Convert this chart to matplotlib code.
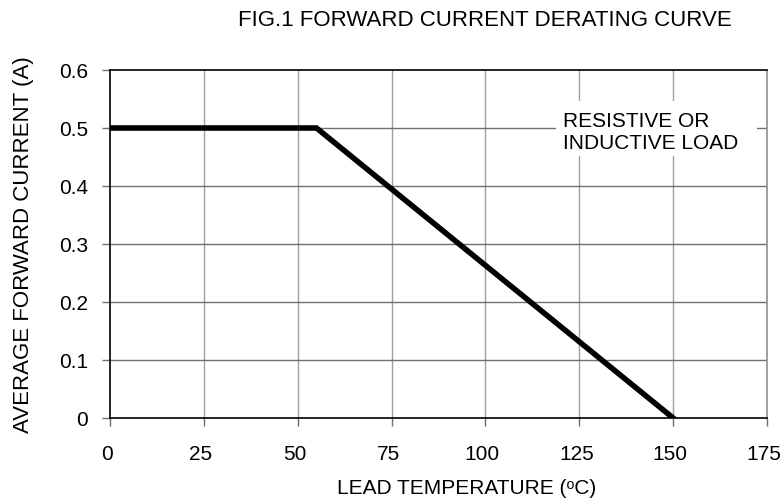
import matplotlib
matplotlib.use("Agg")
import matplotlib.pyplot as plt
import matplotlib.transforms as mtransforms
from matplotlib.patches import Rectangle

# Derating curve points (lead temperature in C, current in A)
temps = [0, 55, 150]
current = [0.5, 0.5, 0.0]

x_ticks = [0, 25, 50, 75, 100, 125, 150, 175]
y_ticks = [0, 0.1, 0.2, 0.3, 0.4, 0.5, 0.6]
y_tick_labels = ["0", "0.1", "0.2", "0.3", "0.4", "0.5", "0.6"]


def main():
    plt.rcParams['font.family'] = ['Liberation Sans', 'DejaVu Sans']

    fig = plt.figure(figsize=(7.83, 5.02), dpi=100)
    ax = fig.add_axes([110 / 783, 1 - 419 / 502, 657 / 783, 348 / 502])

    # Grid: vertical lines lighter than horizontal ones
    for xv in x_ticks[1:]:
        ax.axvline(xv, color='#a0a0a0', lw=1.0, zorder=1)
    for yv in y_ticks[1:-1]:
        ax.axhline(yv, color='#707070', lw=1.0, zorder=1)

    ax.plot(temps, current, color='black', lw=4.0, solid_joinstyle='miter', zorder=3)

    ax.set_xlim(0, 175)
    ax.set_ylim(0, 0.6)
    ax.set_xticks(x_ticks)
    ax.set_yticks(y_ticks)
    ax.set_yticklabels(y_tick_labels)
    ax.tick_params(direction='out', length=6, width=1.0, color='#707070',
                   labelsize=15)
    ax.tick_params(axis='x', pad=13)
    ax.tick_params(axis='y', pad=10)

    # x tick labels sit a few pixels left of their ticks in the original
    shift = mtransforms.ScaledTranslation(-3 / 100, 0, fig.dpi_scale_trans)
    for lbl in ax.get_xticklabels():
        lbl.set_transform(lbl.get_transform() + shift)

    for side in ('left', 'bottom', 'top'):
        ax.spines[side].set_color('black')
        ax.spines[side].set_linewidth(1.2)
    ax.spines['right'].set_color('#909090')
    ax.spines['right'].set_linewidth(1.2)

    # White label area that hides the grid behind the note
    ax.add_patch(Rectangle((118.8, 0.452), 53.5, 0.095, facecolor='white',
                           edgecolor='none', zorder=2))
    ax.text(120.7, 0.494, "RESISTIVE OR\nINDUCTIVE LOAD", fontsize=15,
            ha='left', va='center', linespacing=1.2, zorder=4)

    ax.set_xlabel('LEAD TEMPERATURE (\u1d52C)', fontsize=15)
    ax.xaxis.label.set_va('center')
    ax.xaxis.set_label_coords((467 - 110) / 657, -(489 - 419) / 348)
    ax.set_ylabel('AVERAGE FORWARD CURRENT (A)', fontsize=16, labelpad=18)

    fig.text(485 / 783, 1 - 20 / 502, 'FIG.1 FORWARD CURRENT DERATING CURVE',
             fontsize=16, ha='center', va='center')

    plt.savefig("out.png", dpi=100)


if __name__ == "__main__":
    main()
